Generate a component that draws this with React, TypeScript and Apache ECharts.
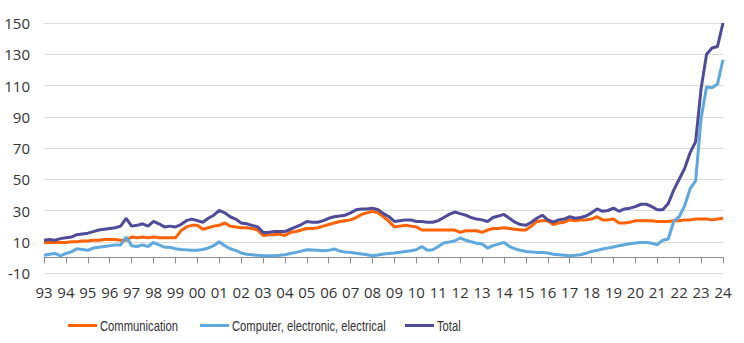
import React, { useEffect, useRef } from "react";
import * as echarts from "echarts";

// Quarterly observations, 1993 Q1 .. 2024 Q1 (decimal years)
const startYear = 1993;
const endYear = 2024;

const communication = [
  9.5, 9.5, 9.5, 9.5, 9.5, 10, 10, 10.5, 10.5, 11, 11, 11.5,
  11.5, 11.5, 11, 11, 13, 12.5, 13, 12.5, 13, 12.5, 12.5, 12.5,
  12.5, 17, 19.5, 20.5, 20.5, 18, 19, 20, 20.5, 22, 20, 19.5,
  19, 19, 18.5, 17.5, 14, 14.5, 14.5, 15, 14, 16, 16.5, 17.5,
  18.5, 18.5, 19, 20, 21, 22, 23, 23.5, 24, 25.5, 27.5, 28.5,
  29.5, 28.5, 26, 23, 19.5, 20, 20.5, 20, 19.5, 17.5, 17.5, 17.5,
  17.5, 17.5, 17.5, 17.5, 16, 17, 17, 17, 16, 17.5, 18.5, 18.5,
  19, 18.5, 18, 17.5, 17.5, 20, 23, 23.5, 23.5, 21, 22, 22.5,
  24, 23.5, 24, 24, 24.5, 26, 24, 24, 24.5, 22, 22, 22.5,
  23.5, 23.5, 23.5, 23.5, 23, 23, 23, 23.5, 23.5, 24, 24, 24.5,
  24.5, 24.5, 24, 24.5, 25,
];

const computer = [
  1.3, 2, 2.5, 1, 2.5, 3.5, 5.5, 5, 4.5, 6, 6.5, 7,
  7.5, 8, 8, 13, 7.5, 7, 8, 7, 9.5, 8, 6.5, 6.5,
  5.5, 5, 4.8, 4.5, 4.5, 5, 6, 7.5, 10, 7.5, 5.5, 4.5,
  2.8, 2, 1.7, 1.3, 1.1, 1.1, 1.1, 1.3, 1.7, 2.5, 3.2, 4,
  4.9, 4.7, 4.5, 4.3, 4.5, 5.4, 4, 3.5, 3.2, 2.7, 2.2, 1.7,
  1.1, 1.5, 2.2, 2.5, 2.8, 3.3, 3.8, 4.3, 4.9, 7, 4.5, 4.9,
  7, 9.2, 9.8, 10.5, 12.4, 11, 10, 9, 8.5, 6, 7.5, 8.5,
  9.6, 7, 5.5, 4.5, 3.8, 3.5, 3.2, 3.2, 2.8, 2, 1.7, 1.4,
  1.1, 1.3, 1.7, 2.6, 3.8, 4.5, 5.4, 6, 6.6, 7.5, 8.1, 8.7,
  9.2, 9.5, 9.6, 9, 8.1, 11, 11.8, 23, 26, 33, 44, 49,
  89, 109, 108.5, 111, 126.5,
];

const total = [
  11, 11.5, 11, 12, 12.5, 13, 14.5, 15, 15.5, 16.5, 17.5, 18,
  18.5, 19, 20, 25, 20, 20.5, 21.5, 20, 23, 21.5, 19.5, 20,
  19.5, 21, 23.5, 24.5, 23.5, 22.5, 25, 27, 30, 28.5, 26, 24.5,
  22, 21.5, 20.5, 19.5, 16, 16, 16.5, 16.5, 16.5, 18, 19.5, 21,
  23, 22.5, 22.5, 23.5, 25, 26, 26.5, 27, 28.5, 30.5, 31, 31,
  31.5, 30.5, 28, 26, 23, 23.5, 24, 24, 23, 23, 22.5, 22.5,
  23.5, 25.5, 27.5, 29, 28, 27, 25.5, 24.5, 24, 23, 25.5, 26.5,
  27.5, 25, 22.5, 21, 20.5, 22.5, 25, 27, 24, 22.5, 24, 24.5,
  26, 25, 25.5, 26.5, 28.5, 31, 29.5, 30, 31.5, 29.5, 31, 31.5,
  32.5, 34, 34, 32.5, 30.5, 30.5, 34.5, 43, 50, 57, 67, 74,
  108, 130, 134, 135, 150,
];

const seriesNames = ["Communication", "Computer, electronic, electrical", "Total"];
const seriesColors = ["#FF6200", "#5FA8DE", "#4F4B98"];
const yTicks = { min: -10, max: 150, interval: 20 };

const quarterTimes = communication.map((_, i) => startYear + i / 4);

export default function App() {
  const ref = useRef<HTMLDivElement>(null);

  useEffect(() => {
    if (!ref.current) return;
    const chart = echarts.init(ref.current, undefined, { renderer: "svg" });
    const dataSets = [communication, computer, total];
    const legendLefts = [68, 200, 405];

    const legendGraphics = seriesNames.map((name, i) => ({
      type: "group",
      left: legendLefts[i],
      top: 318,
      children: [
        {
          type: "rect",
          shape: { x: 0, y: 7, width: 29, height: 3 },
          style: { fill: seriesColors[i] },
        },
        {
          type: "text",
          x: 32,
          y: 8.5,
          scaleX: 0.75,
          style: {
            text: name,
            fill: "#333333",
            font: "15px 'Liberation Sans', Arial, sans-serif",
            verticalAlign: "middle",
            align: "left",
          },
        },
      ],
    }));

    chart.setOption({
      animation: false,
      backgroundColor: "#ffffff",
      grid: { left: 44, right: 21, top: 23, bottom: 70, containLabel: false },
      graphic: legendGraphics,
      xAxis: {
        type: "value",
        min: startYear,
        max: endYear,
        interval: 1,
        axisLine: { show: true, onZero: true, lineStyle: { color: "#8c8c8c", width: 1 } },
        axisTick: { show: true, length: 6, lineStyle: { color: "#8c8c8c" } },
        splitLine: { show: false },
        axisLabel: {
          margin: 11,
          showMinLabel: true,
          showMaxLabel: true,
          fontFamily: "'Open Sans', sans-serif",
          fontSize: 15,
          color: "#333333",
          formatter: (v: number) => String(Math.round(v) % 100).padStart(2, "0"),
        },
      },
      yAxis: {
        type: "value",
        min: yTicks.min,
        max: yTicks.max,
        interval: yTicks.interval,
        axisLine: { show: false },
        axisTick: { show: false },
        splitLine: { show: true, lineStyle: { color: "#d9d9d9", width: 1 } },
        axisLabel: {
          margin: 14,
          fontFamily: "'Open Sans', sans-serif",
          fontSize: 15,
          color: "#333333",
        },
      },
      series: seriesNames.map((name, i) => ({
        name,
        type: "line",
        data: dataSets[i].map((v, j) => [quarterTimes[j], v]),
        showSymbol: false,
        symbol: "none",
        lineStyle: { color: seriesColors[i], width: 3 },
        itemStyle: { color: seriesColors[i] },
        z: 2 + i,
      })),
    });

    return () => chart.dispose();
  }, []);

  return <div ref={ref} style={{ width: 744, height: 343, position: "absolute", left: 0, top: 0 }} />;
}
